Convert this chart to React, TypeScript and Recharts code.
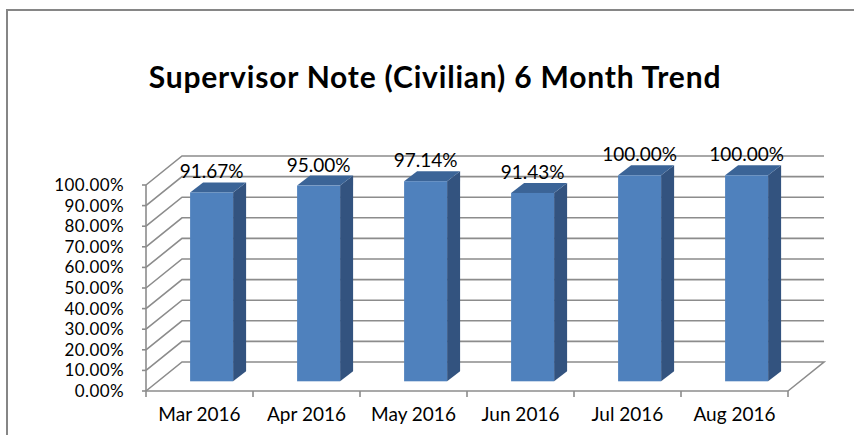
import { BarChart, Bar, XAxis, YAxis, CartesianGrid, LabelList } from 'recharts'

// Monthly compliance rate (fraction of notes completed)
const months = ['Mar 2016', 'Apr 2016', 'May 2016', 'Jun 2016', 'Jul 2016', 'Aug 2016']
const rates = [0.9167, 0.95, 0.9714, 0.9143, 1.0, 1.0]
const yTicks = [0, 0.1, 0.2, 0.3, 0.4, 0.5, 0.6, 0.7, 0.8, 0.9, 1.0]

const data = months.map((month, i) => ({ month, rate: rates[i] }))

// fake 3D geometry: full depth of the box, and where the bars sit inside it
const DEPTH_X = 36
const DEPTH_Y = -29
const BAR_OFF_X = 12
const BAR_OFF_Y = -9.7
const BAR_DEPTH_X = 13
const BAR_DEPTH_Y = -10

const GRID = '#8c8c8c'
const FONT = 'Lato, "Open Sans", sans-serif'

const pct = (v: number) => `${(v * 100).toFixed(2)}%`

function Bar3D(props: any) {
  const { x, y, width, height } = props
  const fx = x + BAR_OFF_X
  const fy = y + BAR_OFF_Y
  const bottom = fy + height
  const right = fx + width
  return (
    <g>
      <polygon
        points={`${right},${fy} ${right + BAR_DEPTH_X},${fy + BAR_DEPTH_Y} ${right + BAR_DEPTH_X},${bottom + BAR_DEPTH_Y} ${right},${bottom}`}
        fill="#33537f"
      />
      <polygon
        points={`${fx},${fy} ${fx + BAR_DEPTH_X},${fy + BAR_DEPTH_Y} ${right + BAR_DEPTH_X},${fy + BAR_DEPTH_Y} ${right},${fy}`}
        fill="#3b6497"
      />
      <rect x={fx} y={fy} width={width} height={height} fill="#4f81bd" />
    </g>
  )
}

function GridLine(props: any) {
  const { x1, x2, y1, y, height } = props
  const isFloor = Math.abs(y1 - (y + height)) < 0.5
  let d = `M${x1},${y1} L${x1 + DEPTH_X},${y1 + DEPTH_Y} L${x2 + DEPTH_X},${y1 + DEPTH_Y}`
  if (isFloor) d += ` L${x2},${y1}`
  return <path d={d} fill="none" stroke={GRID} strokeWidth={1.6} />
}

function MonthTick(props: any) {
  const { x, y, payload, index, visibleTicksCount } = props
  const half = payload.offset || 53.5
  return (
    <g>
      <line x1={x - half} y1={y} x2={x - half} y2={y + 6} stroke={GRID} strokeWidth={1.6} />
      {index === visibleTicksCount - 1 && (
        <line x1={x + half} y1={y} x2={x + half} y2={y + 6} stroke={GRID} strokeWidth={1.6} />
      )}
      <text x={x} y={y + 30} textAnchor="middle" fill="#000" fontSize={19} fontFamily={FONT}>
        {payload.value}
      </text>
    </g>
  )
}

function ValueLabel(props: any) {
  const { x, y, width, value } = props
  return (
    <text
      x={x + width / 2 + BAR_OFF_X}
      y={y + BAR_OFF_Y + BAR_DEPTH_Y - 4}
      textAnchor="middle"
      fill="#000"
      fontSize={19}
      fontFamily={FONT}
    >
      {pct(value)}
    </text>
  )
}

export default function App() {
  return (
    <div style={{ position: 'absolute', left: 0, top: 0, width: 854, height: 435, overflow: 'hidden', background: '#fff' }}>
      <div
        style={{
          position: 'absolute',
          left: 6,
          top: 9,
          width: 900,
          height: 500,
          border: '2px solid #868686',
        }}
      />
      <div
        style={{
          position: 'absolute',
          left: 0,
          width: 870,
          top: 58,
          textAlign: 'center',
          fontFamily: FONT,
          fontWeight: 700,
          fontSize: 30,
          letterSpacing: 0.8,
          color: '#000',
        }}
      >
        Supervisor Note (Civilian) 6 Month Trend
      </div>
      <div style={{ position: 'absolute', left: 0, top: 0 }}>
        <BarChart
          width={854}
          height={435}
          data={data}
          barCategoryGap="30%"
          margin={{ top: 185, right: 66, left: 46, bottom: 4 }}
        >
          <CartesianGrid vertical={false} horizontal={GridLine} />
          <XAxis
            dataKey="month"
            axisLine={{ stroke: GRID, strokeWidth: 1.6 }}
            tickLine={false}
            tickSize={0}
            tickMargin={0}
            height={40}
            interval={0}
            tick={MonthTick}
          />
          <YAxis
            width={100}
            domain={[0, 1]}
            ticks={yTicks}
            interval={0}
            tickFormatter={pct}
            axisLine={{ stroke: GRID, strokeWidth: 1.6 }}
            tickLine={{ stroke: GRID, strokeWidth: 1.6 }}
            tickSize={4}
            tickMargin={18}
            tick={{ fill: '#000', fontSize: 17, letterSpacing: 0.4, fontFamily: FONT }}
          />
          <Bar dataKey="rate" shape={Bar3D} isAnimationActive={false}>
            <LabelList dataKey="rate" content={ValueLabel} />
          </Bar>
        </BarChart>
      </div>
    </div>
  )
}
